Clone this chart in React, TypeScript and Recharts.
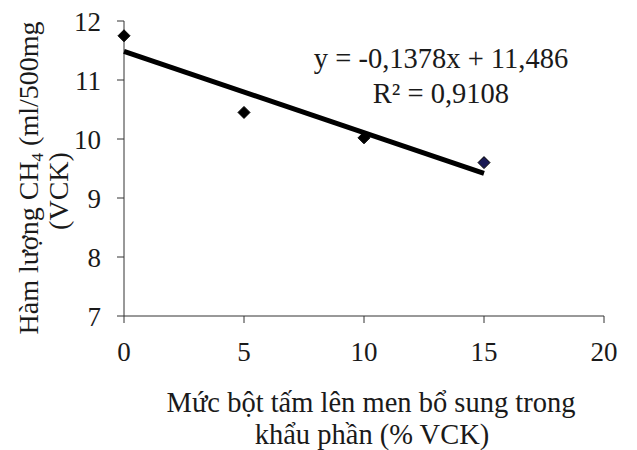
import { ScatterChart, Scatter, XAxis, YAxis, Cell, Customized } from 'recharts';

const xValues = [0, 5, 10, 15];
const yValues = [11.75, 10.45, 10.02, 9.6];
const pointColors = ['#000000', '#000000', '#000000', '#1a1a55'];
const trendX = [0, 15];
const trendY = [11.486, 9.419];
const xTicks = [0, 5, 10, 15, 20];
const yTicks = [7, 8, 9, 10, 11, 12];

const points = xValues.map((x, i) => ({ x, y: yValues[i] }));
const trend = trendX.map((x, i) => ({ x, y: trendY[i] }));

const font = 'Liberation Serif, Tinos, DejaVu Serif, serif';
const tickStyle = { fontSize: 27, fill: '#1a1a1a', fontFamily: font, style: { fontFamily: font } };

const Diamond = (props: any) => {
  const { cx, cy, fill } = props;
  const r = 6;
  return (
    <polygon
      points={`${cx},${cy - r} ${cx + r},${cy} ${cx},${cy + r} ${cx - r},${cy}`}
      fill={fill}
      stroke="#000"
      strokeWidth={1}
    />
  );
};

const Texts = () => (
  <g style={{ fontFamily: font }} fill="#1a1a1a">
    <text x={441} y={68} fontSize={28.5} textAnchor="middle">
      y = -0,1378x + 11,486
    </text>
    <text x={441} y={103} fontSize={28.5} textAnchor="middle">
      R² = 0,9108
    </text>
    <text x={371} y={412} fontSize={28.5} textAnchor="middle">
      Mức bột tấm lên men bổ sung trong
    </text>
    <text x={372} y={444} fontSize={28.5} textAnchor="middle">
      khẩu phần (% VCK)
    </text>
    <text transform="translate(38,178) rotate(-90)" fontSize={28} textAnchor="middle">
      Hàm lượng CH
      <tspan fontSize={17} dy={5}>4</tspan>
      <tspan dy={-5}> (ml/500mg</tspan>
    </text>
    <text transform="translate(68,191) rotate(-90)" fontSize={28} textAnchor="middle">
      (VCK)
    </text>
  </g>
);

export default function App() {
  return (
    <div style={{ position: 'absolute', left: 0, top: 0, background: '#fff', fontFamily: font }}>
      <ScatterChart width={637} height={450} margin={{ top: 21, right: 33, bottom: 0, left: 0 }}>
        <XAxis
          type="number"
          dataKey="x"
          domain={[0, 20]}
          ticks={xTicks}
          interval={0}
          height={134}
          tickSize={7}
          tickMargin={19}
          tick={tickStyle}
          stroke="#333"
          axisLine={{ stroke: '#333' }}
          tickLine={{ stroke: '#333' }}
        />
        <YAxis
          type="number"
          dataKey="y"
          domain={[7, 12]}
          ticks={yTicks}
          interval={0}
          width={124}
          tickSize={7}
          tickMargin={16}
          tick={tickStyle}
          stroke="#333"
          axisLine={{ stroke: '#333' }}
          tickLine={{ stroke: '#333' }}
        />
        <Scatter
          data={trend}
          line={{ stroke: '#000', strokeWidth: 5 }}
          shape={() => null}
          isAnimationActive={false}
        />
        <Scatter data={points} shape={<Diamond />} isAnimationActive={false}>
          {points.map((_, i) => (
            <Cell key={i} fill={pointColors[i]} />
          ))}
        </Scatter>
        <Customized component={<Texts />} />
      </ScatterChart>
    </div>
  );
}
